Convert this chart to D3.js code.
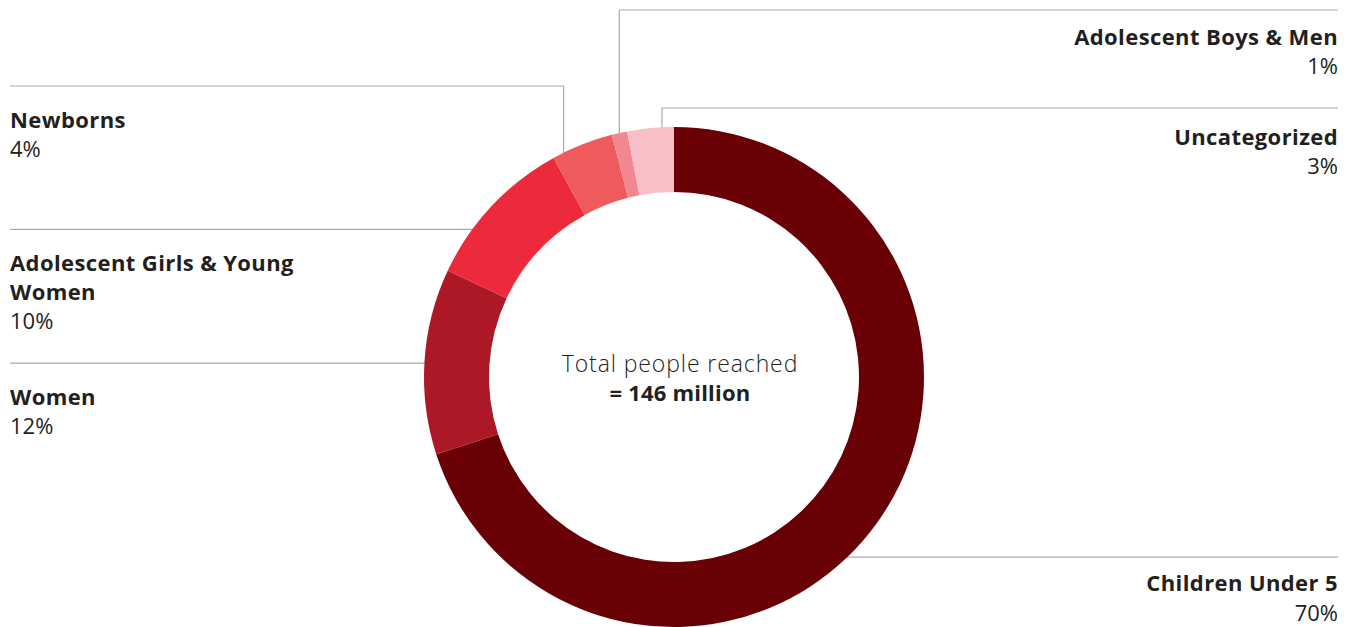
<!DOCTYPE html>
<html>
<head>
<meta charset="utf-8">
<script src="https://cdn.jsdelivr.net/npm/d3@7"></script>
<style>
  html, body { margin: 0; padding: 0; background: #ffffff; }
  svg { display: block; }
  text { font-family: "Open Sans", "Noto Sans", sans-serif; fill: #231f20; }
</style>
</head>
<body>
<svg id="chart" width="1353" height="627"></svg>
<script>
// ---- data ----
const categories = ["Children Under 5", "Women", "Adolescent Girls & Young Women", "Newborns", "Adolescent Boys & Men", "Uncategorized"];
const values = [70, 12, 10, 4, 1, 3];
const labelLines = [["Children Under 5"], ["Women"], ["Adolescent Girls & Young", "Women"], ["Newborns"], ["Adolescent Boys & Men"], ["Uncategorized"]];
const centerTitle = "Total people reached";
const centerValue = "= 146 million";

// ---- styling / layout ----
const colors = ["#690006", "#ad1827", "#ec2a3c", "#ef5a5c", "#f3878f", "#f8bfc6"];
const side = ["right", "left", "left", "left", "right", "right"];
const anchorFrac = [0.54, 0.49, 0.306, 0.18, 0.49, 0.745];
const elbowY = [null, null, null, 86, 10, 108];
const textOffset = [33.5, 42, 42, 42, 35, 37];
const valueGap = [30, 29, 29, 29, 29, 29];

const W = 1353, H = 627;
const cx = 674, cy = 377, R = 250, r = 185;
const leftX = 10, rightX = 1338, lineH = 29;

const svg = d3.select("#chart");
const pie = d3.pie().sort(null).value(d => d).startAngle(0).endAngle(2 * Math.PI);
const arcs = pie(values);
const arcGen = d3.arc().innerRadius(r).outerRadius(R);

const pt = (a, rad) => [cx + rad * Math.sin(a), cy - rad * Math.cos(a)];

// leader lines (drawn under donut)
const gLines = svg.append("g");
arcs.forEach((d, i) => {
  const a = d.startAngle + anchorFrac[i] * (d.endAngle - d.startAngle);
  const [px, py] = pt(a, R);
  const [mx, my] = pt(a, (R + r) / 2);
  const edge = side[i] === "left" ? leftX : rightX;
  let path, lineY;
  if (elbowY[i] === null) {
    lineY = py;
    path = `M${mx},${py} H${edge}`;
  } else {
    lineY = elbowY[i];
    path = `M${px},${my} V${lineY} H${edge}`;
  }
  gLines.append("path").attr("d", path)
    .attr("fill", "none").attr("stroke", "#ababab").attr("stroke-width", 1.2);

  const tg = svg.append("g");
  const anchor = side[i] === "left" ? "start" : "end";
  const n = labelLines[i].length;
  labelLines[i].forEach((ln, j) => {
    tg.append("text").attr("x", edge).attr("y", lineY + textOffset[i] + j * lineH)
      .attr("text-anchor", anchor).attr("font-size", 22).attr("font-weight", 700)
      .attr("letter-spacing", 0.4)
      .text(ln);
  });
  tg.append("text").attr("x", edge).attr("y", lineY + textOffset[i] + (n - 1) * lineH + valueGap[i])
    .attr("text-anchor", anchor).attr("font-size", 22).attr("font-weight", 400)
    .text(values[i] + "%");
});

// donut
svg.append("g").attr("transform", `translate(${cx},${cy})`)
  .selectAll("path").data(arcs).join("path")
  .attr("d", arcGen).attr("fill", (d, i) => colors[i]);

// center text
svg.append("text").attr("x", cx + 6).attr("y", 372).attr("text-anchor", "middle")
  .attr("font-size", 23).attr("font-weight", 300).attr("letter-spacing", 0.9).text(centerTitle);
svg.append("text").attr("x", cx + 6).attr("y", 401).attr("text-anchor", "middle")
  .attr("font-size", 22).attr("font-weight", 700).attr("letter-spacing", 0.2).text(centerValue);
</script>
</body>
</html>
